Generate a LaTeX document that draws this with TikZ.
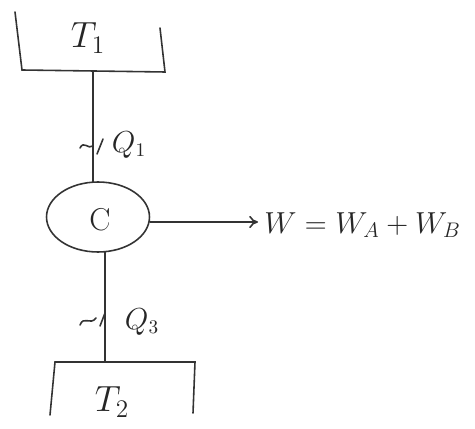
\documentclass[tikz,border=0pt]{standalone}
\usetikzlibrary{shapes.geometric,arrows.meta}
\begin{document}
\begin{tikzpicture}[x={(0.02cm,0)},y={(0,-0.02cm)},
  pen/.style={line width=0.9pt,draw=black!80,line cap=round},
  lbl/.style={inner sep=0pt,text=black!85}]
\useasboundingbox (0,0) rectangle (475,428);
\fill[white] (0,0) rectangle (475,428);
% top reservoir
\coordinate (t1l) at (15,12);
\coordinate (t1bl) at (22,70);
\coordinate (t1br) at (165,72);
\coordinate (t1r) at (160,28);
\coordinate (t1m) at (93,71);
\draw[pen] (t1l) -- (t1bl) -- (t1br) -- (t1r);
\node[lbl,font=\fontsize{20}{24}\selectfont] (T1) at (88,38) {$T_1$};
% cycle
\node[pen,ellipse,minimum width=2.06cm,minimum height=1.4cm,inner sep=0pt] (c) at (98,217) {};
\node[lbl,font=\fontsize{18}{22}\selectfont] (cl) at (100,220) {C};
\draw[pen] (t1m) -- (93,182);
% Q1 mark
\coordinate (q1a) at (80,148);
\draw[pen] (q1a) .. controls (84,140) and (88,150) .. (93,146);
\draw[pen] (97,154) -- (103,139);
\node[lbl,font=\fontsize{16}{19}\selectfont] (Q1) at (129,145) {$Q_1$};
% work
\coordinate (wend) at (258,222);
\draw[pen,-{To[length=5pt,width=7pt]}] (150,222) -- (wend);
\node[lbl,anchor=west,font=\fontsize{17.5}{21}\selectfont] (W) at (264,225) {$W = W_A + W_B$};
% bottom
\coordinate (t2m) at (105,361);
\draw[pen] (105,252) -- (t2m);
\draw[pen] (80,325) .. controls (84,315) and (90,326) .. (96,318);
\draw[pen] (100,326) -- (105,313);
\node[lbl,font=\fontsize{16}{19}\selectfont] (Q3) at (142,322) {$Q_3$};
\coordinate (t2l) at (50,415);
\coordinate (t2tl) at (55,362);
\coordinate (t2tr) at (195,362);
\coordinate (t2r) at (193,413);
\draw[pen] (t2l) -- (t2tl) -- (t2tr) -- (t2r);
\node[lbl,font=\fontsize{20}{24}\selectfont] (T2) at (112,402) {$T_2$};
\end{tikzpicture}
\end{document}
